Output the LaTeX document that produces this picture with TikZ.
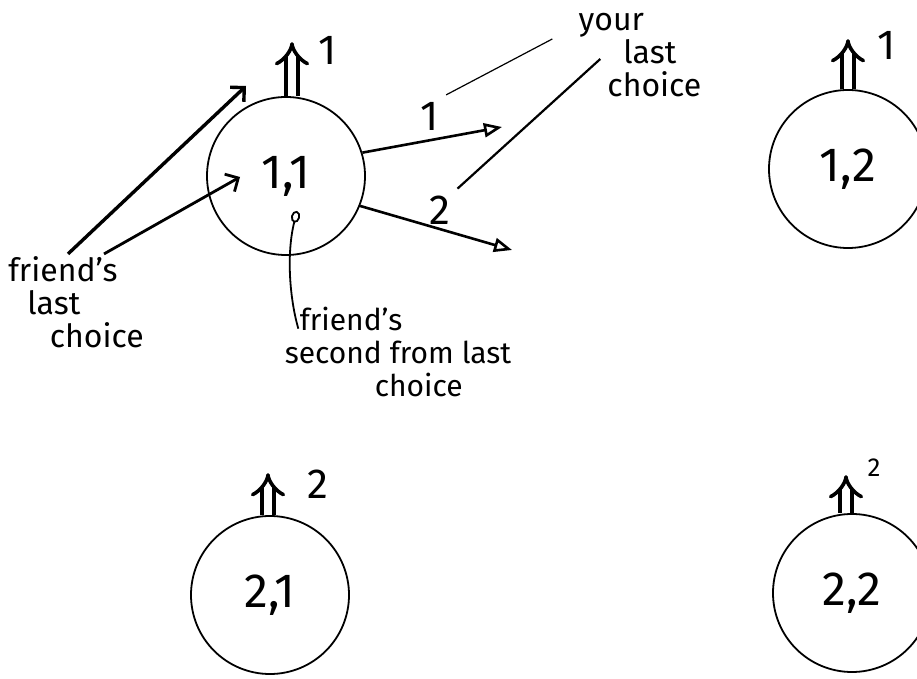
\documentclass[tikz,border=0pt]{standalone}
\usepackage{fontspec}
\setmainfont{Fira Sans}
\usetikzlibrary{arrows.meta}

\begin{document}
\begin{tikzpicture}[x=0.5pt, y=-0.5pt,
  cell/.style={draw, circle, line width=0.9pt, minimum size=79pt, inner sep=0pt,
               font=\fontsize{24}{24}\selectfont},
  uparrow/.style={double, double distance=4pt, line width=1.8pt, -{Implies}},
  num/.style={font=\fontsize{21}{21}\selectfont},
  note/.style={font=\fontsize{16}{16.5}\selectfont, align=left, inner sep=1pt},
  pointer/.style={line width=1.4pt, -{Straight Barb[length=5pt]}},
  choice/.style={line width=1.3pt, -{Triangle[open, length=9pt, width=7pt]}},
  guide/.style={line width=0.9pt}]
\useasboundingbox (0,0) rectangle (917,679);

\node[cell] (c11) at (286,176) {1,1};
\node[cell] (c12) at (848,169) {1,2};
\node[cell] (c21) at (270,595) {2,1};
\node[cell] (c22) at (852,593) {2,2};

\draw[uparrow] ([xshift=3pt]c11.north) -- ++(0,-54) coordinate (t11);
\draw[uparrow] (c12.north) -- ++(0,-50) coordinate (t12);
\draw[uparrow] ([xshift=-1pt]c21.north) -- ++(0,-42) coordinate (t21);
\draw[uparrow] ([xshift=-3pt]c22.north) -- ++(0,-38) coordinate (t22);
\node[num] (v11) at (328,50) {1};
\node[num] (v12) at (887,45) {1};
\node[num] (v21) at (318,484) {2};
\node[num, font=\fontsize{13}{13}\selectfont] (v22) at (874,468) {2};

\node[note] (flast) at (76,302) {friend's\\\hspace*{0.6em}last\\\hspace*{1.3em}choice};
\coordinate (a1) at (246,86);
\coordinate (a2) at (240,177);
\draw[pointer, line width=1.7pt] ([xshift=-4pt]flast.north) -- (a1);
\draw[pointer] ([xshift=14pt]flast.north) -- (a2);

\coordinate (o1) at (502,127);
\coordinate (o2) at (512,250);
\draw[choice] (c11.17) -- (o1);
\draw[choice] (c11.-22) -- (o2);
\node[num] (l1) at (430,116) {1};
\node[num] (l2) at (440,210) {2};

\node[note] (ylast) at (640,55) {your\\\hspace*{1.4em}last\\\hspace*{0.9em}choice};
\draw[guide, line width=0.6pt] (l1.north east) -- ([shift={(-12pt,8pt)}]ylast.west);
\draw[guide, line width=1.1pt] (l2.north east) -- ([shift={(12pt,-2pt)}]ylast.west);

\node[note, font=\fontsize{15}{16.5}\selectfont] (fsec) at (398,352)
  {\hspace*{0.5em}friend's\\second from last\\\hspace*{3em}choice};
\coordinate (p2) at (297,211);
\draw[guide, -{Circle[open, length=6pt, width=4.5pt]}]
  ([shift={(8pt,-12pt)}]fsec.north west) .. controls (290,300) and (286,255) .. (p2);
\end{tikzpicture}
\end{document}
